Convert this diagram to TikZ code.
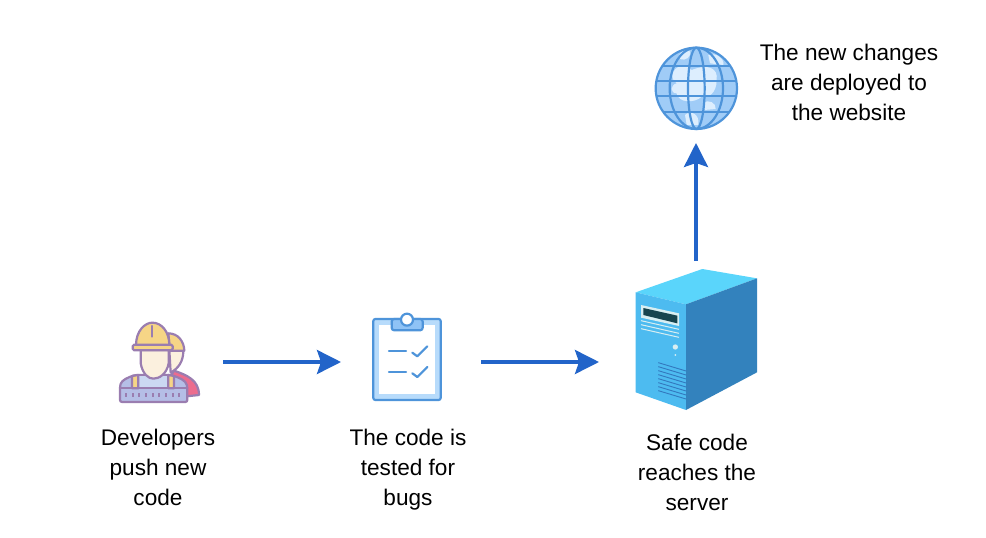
\documentclass[tikz,border=0pt]{standalone}
\usepackage{fontspec}
\setmainfont{Liberation Sans}
\usetikzlibrary{arrows.meta}
\definecolor{flowblue}{HTML}{2264C9}
\definecolor{hatyellow}{HTML}{F6D586}
\definecolor{devline}{HTML}{9A7DB0}
\definecolor{devskin}{HTML}{FBF0DE}
\definecolor{devbody}{HTML}{B5BEE6}
\definecolor{devshirt}{HTML}{CBD8F2}
\definecolor{devpink}{HTML}{EC6C8E}
\definecolor{iconline}{HTML}{4E94DA}
\definecolor{iconlight}{HTML}{B7DBFB}
\definecolor{iconmid}{HTML}{8FC3F6}
\definecolor{iconpale}{HTML}{DDEEFE}
\definecolor{servertop}{HTML}{5AD5FB}
\definecolor{serverfront}{HTML}{4DBBF0}
\definecolor{serverside}{HTML}{3382BD}
\definecolor{serverbay}{HTML}{D8EEF2}
\definecolor{serverslot}{HTML}{17444F}
\definecolor{servervent}{HTML}{3378BE}
\tikzset{
    icon-box/.style = {rectangle, inner sep=0pt, outer sep=0pt},
    step-label/.style = {align=center, font=\fontsize{22.6}{30}\selectfont, text=black},
    flow-arrow/.style = {draw=flowblue, line width=3.4pt, -{Stealth[length=24pt,width=24pt,inset=4pt]}},
    dev-line/.style = {draw=devline, line width=2.2pt, line join=round, line cap=round},
    icon-line/.style = {draw=iconline, line width=2.2pt, line join=round, line cap=round},
}

\begin{document}
\begin{tikzpicture}[x=1pt,y=-1pt]
\useasboundingbox (0,0) rectangle (986,538);

% developers
\begin{scope}[shift={(100,300)},scale=1/3]
\draw[dev-line, fill=devpink] (222,212) .. controls (260,225) and (297,240) .. (297,285) -- (250,290) -- (205,240) -- cycle;
\draw[dev-line, fill=devskin] (208,150) -- (250,152) .. controls (250,185) and (235,205) .. (212,218) -- cycle;
\draw[dev-line, fill=hatyellow] (205,100) .. controls (235,100) and (252,125) .. (253,152) -- (210,152) -- cycle;
\draw[dev-line, fill=devbody, rounded corners=2pt] (60,306) -- (60,258) .. controls (65,240) and (85,232) .. (105,225) -- (212,225) .. controls (235,232) and (258,240) .. (262,262) -- (262,306) -- cycle;
\draw[dev-line, fill=devshirt] (115,225) rectangle (205,265);
\draw[dev-line, fill=hatyellow] (96,228) -- (115,225) -- (115,265) -- (96,265) -- cycle;
\draw[dev-line, fill=hatyellow] (205,225) -- (222,228) -- (222,265) -- (205,265) -- cycle;
\draw[dev-line] (60,265) -- (262,265);
\foreach \px in {78,98,...,238} {
    \draw[devline, line width=1.8pt] (\px,280) -- (\px,291);
}
\draw[dev-line, fill=devskin] (122,150) -- (122,190) .. controls (128,222) and (145,236) .. (160,236) .. controls (178,236) and (200,222) .. (206,190) -- (206,150) -- cycle;
\draw[dev-line, fill=hatyellow] (108,136) .. controls (108,92) and (135,68) .. (157,68) .. controls (185,68) and (208,95) .. (208,136) -- cycle;
\draw[dev-line] (157,78) -- (157,110);
\draw[dev-line, fill=hatyellow, rounded corners=1.5pt] (98,134) rectangle (218,151);
\end{scope}

% clipboard
\begin{scope}[shift={(360,305)},scale=1/3]
\draw[icon-line, fill=iconlight, rounded corners=2pt] (40,42) rectangle (242,285);
\fill[white] (58,60) rectangle (224,267);
\draw[icon-line, fill=iconmid, rounded corners=2.5pt] (95,42) rectangle (188,76);
\draw[icon-line, fill=white] (141,44) circle (18);
\foreach \py in {138,200} {
    \draw[icon-line] (87,\py) -- (138,\py);
    \draw[icon-line] (157,\py+5) -- (172,\py+16) -- (202,\py-14);
}
\end{scope}

% server
\begin{scope}[shift={(625,260)},scale=1/3]
\fill[servertop] (32,97) -- (232,27) -- (396,55) -- (183,133) -- cycle;
\fill[serverfront] (32,97) -- (183,133) -- (183,450) -- (32,397) -- cycle;
\fill[serverside] (183,133) -- (396,55) -- (396,337) -- (183,450) -- cycle;
\fill[serverbay] (48,135) -- (162,160) -- (162,198) -- (48,173) -- cycle;
\fill[serverslot] (55,144) -- (157,167) -- (157,190) -- (55,165) -- cycle;
\foreach \py in {182,194,206} {
    \draw[serverbay, line width=1pt] (48,\py) -- (162,\py+26);
}
\fill[serverbay] (151,261) circle (8);
\fill[serverbay] (151,285) circle (3);
\foreach \py in {308,320,...,392} {
    \draw[servervent, line width=0.9pt] (100,\py) -- (183,\py+25);
}
\end{scope}

% globe
\begin{scope}[shift={(645,35)},scale=1/3]
\fill[iconmid!85!white] (154,160) circle (122);
\begin{scope}
\clip (154,160) circle (120);
\fill[iconpale] (85,110) .. controls (100,85) and (130,90) .. (140,105) .. controls (190,85) and (220,100) .. (215,135) .. controls (215,175) and (190,190) .. (170,185) .. controls (150,205) and (100,205) .. (95,175) .. controls (75,175) and (75,150) .. (95,145) .. controls (80,135) and (80,120) .. (85,110) -- cycle;
\fill[iconpale] (100,65) .. controls (115,35) and (140,40) .. (135,60) .. controls (130,75) and (105,80) .. (100,65) -- cycle;
\fill[iconpale] (190,60) .. controls (215,50) and (240,75) .. (235,90) -- (195,85) -- cycle;
\fill[iconpale] (175,205) .. controls (190,190) and (215,205) .. (212,222) -- (178,225) -- cycle;
\fill[iconpale] (120,240) .. controls (135,225) and (165,235) .. (160,270) -- (125,270) -- cycle;
\foreach \py in {92,138,183,230} {
    \draw[icon-line] (20,\py) -- (290,\py);
}
\end{scope}
\draw[icon-line] (154,160) circle (122);
\draw[icon-line] (154,160) ellipse (25 and 122);
\draw[icon-line] (154,160) ellipse (80 and 122);
\end{scope}

\node[icon-box, minimum width=128pt, minimum height=90pt] (devs) at (159,362) {};
\node[icon-box, minimum width=140pt, minimum height=90pt] (tests) at (411,362) {};
\node[icon-box, minimum width=194pt, minimum height=156pt] (server) at (696,339) {};
\node[icon-box, minimum width=90pt, minimum height=110pt] (globe) at (696,88) {};

\draw[flow-arrow] (devs.east) -- (tests.west);
\draw[flow-arrow] (tests.east) -- (server.west |- tests.east);
\draw[flow-arrow] (server.north) -- (globe.south);

\node[step-label] (devs-label) at (158,467.5) {Developers\\push new\hspace*{6pt}\\code};
\node[step-label] (tests-label) at (408,469.5) {The code is\\tested for\\bugs};
\node[step-label] (server-label) at (697,472.5) {Safe code\\reaches the\\server};
\node[step-label] (globe-label) at (849,82.5) {The new changes\\are deployed to\\the website};
\end{tikzpicture}
\end{document}
